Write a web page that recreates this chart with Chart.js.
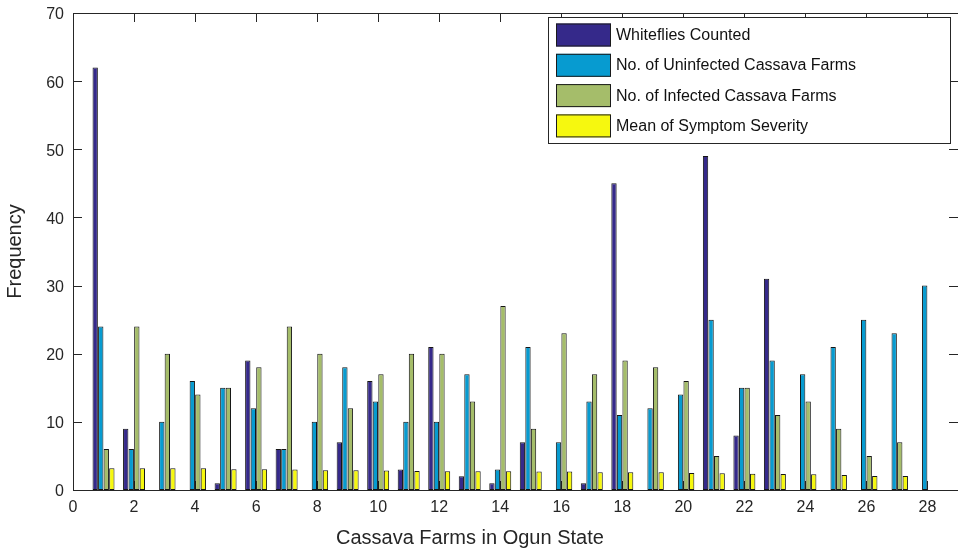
<!DOCTYPE html>
<html>
<head>
<meta charset="utf-8">
<script src="https://cdn.jsdelivr.net/npm/chart.js@4"></script>
<style>
  html, body { margin: 0; padding: 0; background: #fff; overflow: hidden; }
  #zone { width: 958px; height: 550px; position: relative; }
</style>
</head>
<body>
<div id="zone"><canvas id="graphique-fermes"></canvas></div>
<script>
// Numéro des fermes (axe x)
const fermes = [1, 2, 3, 4, 5, 6, 7, 8, 9, 10, 11, 12, 13, 14, 15, 16, 17, 18, 19, 20, 21, 22, 23, 24, 25, 26, 27, 28]

// Valeurs par ferme pour chaque série
const mouchesBlanches = [62, 9, 0, 0, 1, 19, 6, 0, 7, 16, 3, 21, 2, 1, 7, 0, 1, 45, 0, 0, 49, 8, 31, 0, 0, 0, 0, 0]
const fermesSaines = [24, 6, 10, 16, 15, 12, 6, 10, 18, 13, 10, 10, 17, 3, 21, 7, 13, 11, 12, 14, 25, 15, 19, 17, 21, 25, 23, 30]
const fermesInfectees = [6, 24, 20, 14, 15, 18, 24, 20, 12, 17, 20, 20, 13, 27, 9, 23, 17, 19, 18, 16, 5, 15, 11, 13, 9, 5, 7, 0]
const severiteMoyenne = [3.2, 3.2, 3.2, 3.2, 3.05, 3.05, 3.0, 2.9, 2.9, 2.85, 2.8, 2.75, 2.75, 2.75, 2.7, 2.7, 2.6, 2.6, 2.6, 2.5, 2.45, 2.4, 2.35, 2.3, 2.2, 2.05, 2.05, 0]

const nomsSeries = ["Whiteflies Counted", "No. of Uninfected Cassava Farms", "No. of Infected Cassava Farms", "Mean of Symptom Severity"]
const couleurs = ["#35298A", "#079BD0", "#A5BD6A", "#F6F80F"]

// Graduations des axes
const xMin = 0, xMax = 29, xPas = 2
const yMin = 0, yMax = 70, yPas = 10

const titreX = "Cassava Farms in Ogun State"
const titreY = "Frequency"

const police = "'Liberation Sans', Arial, Helvetica, sans-serif"
const encre = "#262626"

// transforme une liste de valeurs en points {x, y} pour l'axe linéaire
function enPoints(valeurs) {
    return valeurs.map((v, i) => ({ x: fermes[i], y: v }))
}

const series = [mouchesBlanches, fermesSaines, fermesInfectees, severiteMoyenne]
const datasets = series.map((valeurs, i) => ({
    label: nomsSeries[i],
    data: enPoints(valeurs),
    backgroundColor: couleurs[i],
    borderColor: "#151515",
    borderWidth: 1,
    borderSkipped: false,
    categoryPercentage: 0.727,
    barPercentage: 0.96
}))

// Cadre autour de la zone de tracé + petites graduations vers l'intérieur (dessinés sous les barres)
const cadreAxes = {
    id: "cadreAxes",
    beforeDatasetsDraw(chart) {
        const { ctx, chartArea: a, scales: { x, y } } = chart
        const long = 9
        ctx.save()
        ctx.strokeStyle = encre
        ctx.lineWidth = 1
        ctx.beginPath()
        ctx.rect(a.left + 0.5, a.top + 0.5, a.right - a.left, a.bottom - a.top)
        for (const t of x.ticks) {
            const px = Math.round(x.getPixelForValue(t.value)) + 0.5
            ctx.moveTo(px, a.bottom); ctx.lineTo(px, a.bottom - long)
            ctx.moveTo(px, a.top); ctx.lineTo(px, a.top + long)
        }
        for (const t of y.ticks) {
            const py = Math.round(y.getPixelForValue(t.value)) + 0.5
            ctx.moveTo(a.left, py); ctx.lineTo(a.left + long, py)
            ctx.moveTo(a.right, py); ctx.lineTo(a.right - long, py)
        }
        ctx.stroke()
        ctx.restore()
    },
    // la ligne du bas repasse par-dessus les barres
    afterDatasetsDraw(chart) {
        const { ctx, chartArea: a } = chart
        ctx.save()
        ctx.strokeStyle = encre
        ctx.lineWidth = 1
        ctx.beginPath()
        ctx.moveTo(a.left, a.bottom + 0.5)
        ctx.lineTo(a.right, a.bottom + 0.5)
        ctx.stroke()
        ctx.restore()
    }
}

// Titre de l'axe x (un peu à gauche du centre)
const titreAxeX = {
    id: "titreAxeX",
    afterDraw(chart) {
        const { ctx, chartArea: a } = chart
        ctx.save()
        ctx.font = "20px " + police
        ctx.fillStyle = encre
        ctx.textAlign = "center"
        ctx.textBaseline = "alphabetic"
        ctx.fillText(titreX, a.left + (a.right - a.left) * 0.4485, 544)
        ctx.restore()
    }
}

// Légende encadrée en haut à droite, dessinée à partir des datasets
const legendeCadre = {
    id: "legendeCadre",
    afterDraw(chart) {
        const { ctx, chartArea: a } = chart
        const droite = a.right - 8
        const haut = a.top + 4
        const largeur = 402
        const hauteur = 126
        const gauche = droite - largeur
        ctx.save()
        ctx.fillStyle = "#fff"
        ctx.fillRect(gauche, haut, largeur, hauteur)
        ctx.strokeStyle = encre
        ctx.lineWidth = 1
        ctx.strokeRect(gauche + 0.5, haut + 0.5, largeur, hauteur)
        ctx.font = "16px " + police
        ctx.textBaseline = "middle"
        chart.data.datasets.forEach((ds, i) => {
            const yc = haut + 17.5 + i * 30.3
            ctx.fillStyle = ds.backgroundColor
            ctx.fillRect(gauche + 8, yc - 11, 55, 23)
            ctx.strokeStyle = "#1a1a1a"
            ctx.strokeRect(gauche + 8.5, yc - 10.5, 54, 22)
            ctx.fillStyle = "#111"
            ctx.fillText(ds.label, gauche + 68, yc + 1)
        })
        ctx.restore()
    }
}

const config = {
    type: "bar",
    data: { datasets: datasets },
    options: {
        responsive: true,
        maintainAspectRatio: false,
        animation: false,
        layout: { padding: { top: 13, right: 0, left: 0, bottom: 0 } },
        plugins: {
            legend: { display: false },
            tooltip: { enabled: false }
        },
        scales: {
            x: {
                type: "linear",
                min: xMin,
                max: xMax,
                offset: false,
                grid: { display: false, drawTicks: false },
                border: { display: false },
                ticks: {
                    stepSize: xPas,
                    includeBounds: false,
                    autoSkip: false,
                    maxRotation: 0,
                    padding: 8,
                    color: encre,
                    font: { family: police, size: 16 }
                },
                afterFit(scale) {
                    scale.height = 60
                    scale.paddingLeft = 0
                    scale.paddingRight = 0
                }
            },
            y: {
                min: yMin,
                max: yMax,
                grid: { display: false, drawTicks: false },
                border: { display: false },
                ticks: {
                    stepSize: yPas,
                    padding: 9,
                    labelOffset: 2,
                    color: encre,
                    font: { family: police, size: 16 }
                },
                title: {
                    display: true,
                    text: titreY,
                    color: encre,
                    font: { family: police, size: 20 },
                    padding: { top: 3, bottom: 0 }
                },
                afterFit(scale) {
                    scale.width = 73
                    scale.paddingTop = 0
                    scale.paddingBottom = 0
                }
            }
        }
    },
    plugins: [cadreAxes, titreAxeX, legendeCadre]
}

const graphique = new Chart(document.querySelector("#graphique-fermes"), config)
</script>
</body>
</html>
